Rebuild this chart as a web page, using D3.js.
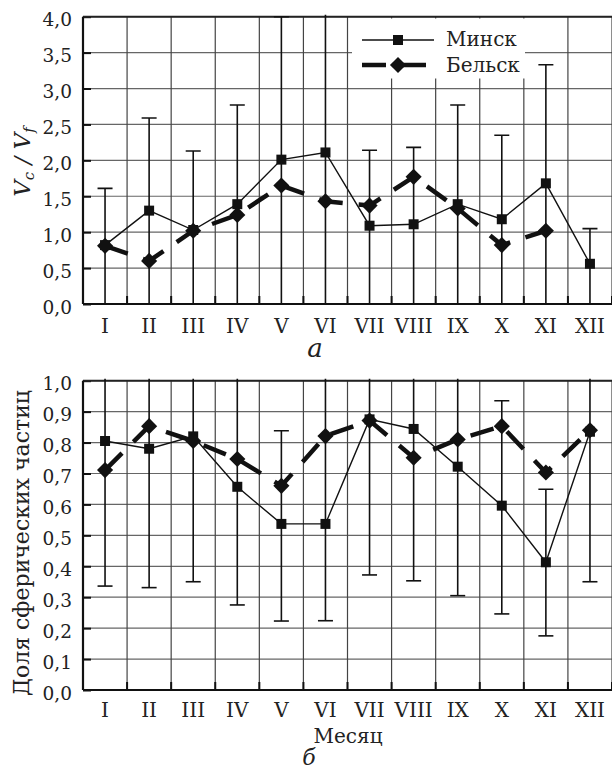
<!DOCTYPE html>
<html>
<head>
<meta charset="utf-8">
<script src="https://cdn.jsdelivr.net/npm/d3@7"></script>
<style>
  body { margin: 0; background: #fff; }
  svg { display: block; font-family: "DejaVu Serif", serif; }
</style>
</head>
<body>
<div class="container"></div>
<script>
const months = ["I", "II", "III", "IV", "V", "VI", "VII", "VIII", "IX", "X", "XI", "XII"];

// chart a: Vc/Vf
const minskRatio = [0.82, 1.30, 1.03, 1.39, 2.01, 2.11, 1.09, 1.11, 1.39, 1.18, 1.68, 0.56];
const belskRatio = [0.81, 0.60, 1.02, 1.24, 1.65, 1.43, 1.37, 1.77, 1.33, 0.82, 1.02, null];
const ratioUpper = [1.61, 2.59, 2.13, 2.77, 4.00, 4.30, 2.14, 2.18, 2.77, 2.35, 3.33, 1.05];
const ratioLower = [0, 0, 0, 0, 0, 0, 0, 0, 0, 0, 0, 0];
const ratioTicks = [0, 0.5, 1, 1.5, 2, 2.5, 3, 3.5, 4];

// chart б: share of spherical particles
const minskShare = [0.805, 0.78, 0.82, 0.657, 0.537, 0.537, 0.875, 0.844, 0.722, 0.596, 0.413, 0.835];
const belskShare = [0.711, 0.853, 0.805, 0.747, 0.66, 0.821, 0.871, 0.751, 0.81, 0.853, 0.703, 0.84];
const shareUpper = [1.1, 1.1, 1.1, 1.1, 0.838, 1.1, 1.1, 1.1, 1.1, 0.935, 0.649, 1.1];
const shareLower = [0.336, 0.331, 0.35, 0.275, 0.223, 0.224, 0.372, 0.353, 0.305, 0.246, 0.175, 0.35];
const shareTicks = [0, 0.1, 0.2, 0.3, 0.4, 0.5, 0.6, 0.7, 0.8, 0.9, 1.0];

const width = 612;
const height = 771;
const left = 83;
const right = 612;

const fmt = d3.formatLocale({decimal: ",", thousands: " ", grouping: [3], currency: ["", ""]}).format(".1f");

let svg = d3.select(".container").append("svg")
  .attr("width", width).attr("height", height);

let xScale = d3.scaleBand(months, [left, right]);

function drawPanel(id, top, bottom, maxVal, ticks, minsk, belsk, upper, lower, labelY) {
  let yScale = d3.scaleLinear([0, maxVal], [bottom, top]);
  let g = svg.append("g");

  g.append("clipPath").attr("id", id)
    .append("rect")
    .attr("x", left).attr("y", top - 2)
    .attr("width", right - left).attr("height", bottom - top + 2);

  // grid
  g.selectAll(".hgrid").data(ticks).enter().append("line")
    .attr("x1", left).attr("x2", right)
    .attr("y1", (d) => yScale(d)).attr("y2", (d) => yScale(d))
    .attr("stroke", "#666").attr("stroke-width", 1.2);

  let bounds = months.map((m) => xScale(m)).concat([right]);
  g.selectAll(".vgrid").data(bounds).enter().append("line")
    .attr("x1", (d) => d).attr("x2", (d) => d)
    .attr("y1", top).attr("y2", bottom)
    .attr("stroke", "#444").attr("stroke-width", 1.2);

  // inward ticks on the bottom axis
  g.selectAll(".xtick").data(bounds).enter().append("line")
    .attr("x1", (d) => d).attr("x2", (d) => d)
    .attr("y1", bottom).attr("y2", bottom - 8)
    .attr("stroke", "#111").attr("stroke-width", 2);

  // left axis with inward ticks
  let yAxis = d3.axisLeft(yScale).tickValues(ticks).tickFormat(fmt)
    .tickSizeInner(-8).tickSizeOuter(0).tickPadding(11);
  let ya = g.append("g").attr("transform", `translate(${left},0)`).call(yAxis);
  ya.select(".domain").remove();
  ya.selectAll("line").attr("stroke", "#111").attr("stroke-width", 2);
  ya.selectAll("text")
    .attr("font-family", "DejaVu Serif").attr("font-size", 18.5)
    .attr("fill", "#222").attr("dy", "0.5em");

  // frame
  g.append("line").attr("x1", left).attr("x2", right).attr("y1", top).attr("y2", top)
    .attr("stroke", "#222").attr("stroke-width", 2);
  g.append("line").attr("x1", left).attr("x2", right).attr("y1", bottom).attr("y2", bottom)
    .attr("stroke", "#111").attr("stroke-width", 2.2);
  g.append("line").attr("x1", left).attr("x2", left).attr("y1", top).attr("y2", bottom)
    .attr("stroke", "#111").attr("stroke-width", 2.2);

  // month labels
  g.selectAll(".mlabel").data(months).enter().append("text")
    .attr("x", (d) => xScale(d) + xScale.bandwidth() / 2)
    .attr("y", labelY)
    .attr("text-anchor", "middle")
    .attr("font-size", 20).attr("fill", "#222")
    .text((d) => d);

  let cx = (i) => xScale(months[i]) + xScale.bandwidth() / 2;

  // error bars
  let eb = g.append("g").attr("clip-path", `url(#${id})`);
  eb.selectAll(".ebar").data(months).enter().append("line")
    .attr("x1", (d, i) => cx(i)).attr("x2", (d, i) => cx(i))
    .attr("y1", (d, i) => yScale(lower[i])).attr("y2", (d, i) => yScale(upper[i]))
    .attr("stroke", "#111").attr("stroke-width", 1.6);
  eb.selectAll(".capU").data(months).enter().append("line")
    .attr("x1", (d, i) => cx(i) - 7.5).attr("x2", (d, i) => cx(i) + 7.5)
    .attr("y1", (d, i) => yScale(upper[i])).attr("y2", (d, i) => yScale(upper[i]))
    .attr("stroke", "#111").attr("stroke-width", 1.6);
  eb.selectAll(".capL").data(months).enter().append("line")
    .attr("x1", (d, i) => cx(i) - 7.5).attr("x2", (d, i) => cx(i) + 7.5)
    .attr("y1", (d, i) => yScale(lower[i])).attr("y2", (d, i) => yScale(lower[i]))
    .attr("stroke", "#111").attr("stroke-width", 1.6);

  // series
  let line = d3.line()
    .defined((d) => d != null)
    .x((d, i) => cx(i))
    .y((d) => yScale(d));

  g.append("path").datum(minsk)
    .attr("d", line)
    .attr("fill", "none").attr("stroke", "#111").attr("stroke-width", 1.4);

  g.append("path").datum(belsk)
    .attr("d", line)
    .attr("fill", "none").attr("stroke", "#111").attr("stroke-width", 4.5)
    .attr("stroke-dasharray", "24,16");

  g.selectAll(".sq").data(minsk).enter().append("path")
    .filter((d) => d != null)
    .attr("d", d3.symbol(d3.symbolSquare, 100))
    .attr("transform", (d, i) => `translate(${cx(i)},${yScale(d)})`)
    .attr("fill", "#111");

  g.selectAll(".dm").data(belsk).enter().append("path")
    .attr("d", d3.symbol(d3.symbolSquare, 130))
    .attr("transform", (d, i) => `translate(${cx(i)},${yScale(d)}) rotate(45)`)
    .attr("fill", "#111")
    .attr("display", (d) => d == null ? "none" : null);
}

drawPanel("clipA", 16.7, 304, 4, ratioTicks, minskRatio, belskRatio, ratioUpper, ratioLower, 333);
drawPanel("clipB", 380.7, 690, 1, shareTicks, minskShare, belskShare, shareUpper, shareLower, 717);

// legend
let lg = svg.append("g");
lg.append("rect").attr("x", 352).attr("y", 18.5).attr("width", 173).attr("height", 60)
  .attr("fill", "#fff");
lg.append("line").attr("x1", 362).attr("x2", 434).attr("y1", 40).attr("y2", 40)
  .attr("stroke", "#111").attr("stroke-width", 1.4);
lg.append("path").attr("d", d3.symbol(d3.symbolSquare, 100))
  .attr("transform", "translate(398,40)").attr("fill", "#111");
lg.append("line").attr("x1", 362).attr("x2", 434).attr("y1", 65).attr("y2", 65)
  .attr("stroke", "#111").attr("stroke-width", 4.5).attr("stroke-dasharray", "24,16");
lg.append("path").attr("d", d3.symbol(d3.symbolSquare, 130))
  .attr("transform", "translate(398,65) rotate(45)").attr("fill", "#111");
lg.append("text").attr("x", 446).attr("y", 46).attr("font-size", 20).attr("fill", "#222").text("Минск");
lg.append("text").attr("x", 446).attr("y", 72).attr("font-size", 20).attr("fill", "#222").text("Бельск");

// axis titles
let yt = svg.append("text")
  .attr("transform", "translate(30,162) rotate(-90)")
  .attr("text-anchor", "middle")
  .attr("font-size", 23).attr("font-style", "italic").attr("fill", "#222");
yt.append("tspan").text("V");
yt.append("tspan").attr("font-size", 15).attr("dy", 4).text("c");
yt.append("tspan").attr("dy", -4).text(" / ");
yt.append("tspan").text("V");
yt.append("tspan").attr("font-size", 15).attr("dy", 4).text("f");

svg.append("text")
  .attr("transform", "translate(29,543) rotate(-90)")
  .attr("text-anchor", "middle")
  .attr("font-size", 22).attr("fill", "#222")
  .text("Доля сферических частиц");

svg.append("text").attr("x", 348).attr("y", 743)
  .attr("text-anchor", "middle").attr("font-size", 20).attr("fill", "#222")
  .text("Месяц");

svg.append("text").attr("x", 315).attr("y", 357)
  .attr("text-anchor", "middle").attr("font-size", 26).attr("font-style", "italic").attr("fill", "#222")
  .text("а");

svg.append("text").attr("x", 309).attr("y", 765)
  .attr("text-anchor", "middle").attr("font-size", 22).attr("font-style", "italic").attr("fill", "#222")
  .text("б");
</script>
</body>
</html>
